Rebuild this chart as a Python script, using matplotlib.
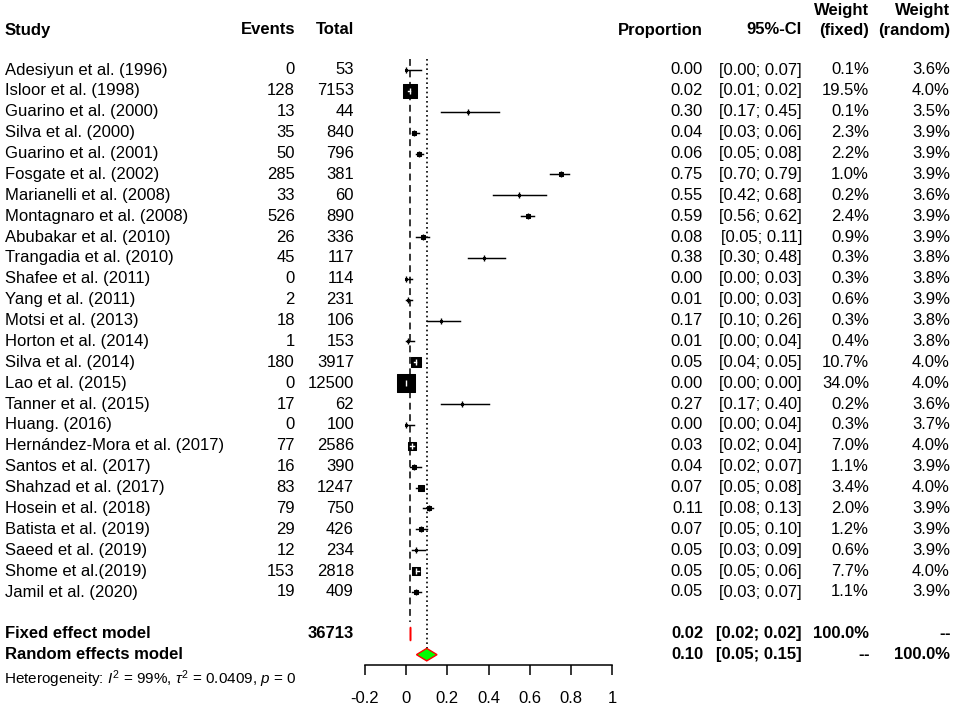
import numpy as np
import matplotlib
matplotlib.use("Agg")
import matplotlib.pyplot as plt
from matplotlib.patches import Polygon

plt.rcParams['font.family'] = ['Liberation Sans', 'DejaVu Sans']
plt.rcParams['mathtext.fontset'] = 'custom'
plt.rcParams['mathtext.rm'] = 'Liberation Sans'
plt.rcParams['mathtext.it'] = 'Liberation Sans:italic'
plt.rcParams['mathtext.bf'] = 'Liberation Sans:bold'

# ---------------- data ----------------
studies = ["Adesiyun et al. (1996)", "Isloor et al. (1998)", "Guarino et al. (2000)",
           "Silva et al. (2000)", "Guarino et al. (2001)", "Fosgate et al. (2002)",
           "Marianelli et al. (2008)", "Montagnaro et al. (2008)", "Abubakar et al. (2010)",
           "Trangadia et al. (2010)", "Shafee et al. (2011)", "Yang et al. (2011)",
           "Motsi et al. (2013)", "Horton et al. (2014)", "Silva et al. (2014)",
           "Lao et al. (2015)", "Tanner et al. (2015)", "Huang. (2016)",
           "Hernández-Mora et al. (2017)", "Santos et al. (2017)", "Shahzad et al. (2017)",
           "Hosein et al. (2018)", "Batista et al. (2019)", "Saeed et al. (2019)",
           "Shome et al.(2019)", "Jamil et al. (2020)"]
events = [0, 128, 13, 35, 50, 285, 33, 526, 26, 45, 0, 2, 18, 1, 180, 0, 17, 0, 77, 16,
          83, 79, 29, 12, 153, 19]
totals = [53, 7153, 44, 840, 796, 381, 60, 890, 336, 117, 114, 231, 106, 153, 3917, 12500,
          62, 100, 2586, 390, 1247, 750, 426, 234, 2818, 409]
props = [0.00, 0.02, 0.30, 0.04, 0.06, 0.75, 0.55, 0.59, 0.08, 0.38, 0.00, 0.01, 0.17,
         0.01, 0.05, 0.00, 0.27, 0.00, 0.03, 0.04, 0.07, 0.11, 0.07, 0.05, 0.05, 0.05]
ci_low = [0.00, 0.01, 0.17, 0.03, 0.05, 0.70, 0.42, 0.56, 0.05, 0.30, 0.00, 0.00, 0.10,
          0.00, 0.04, 0.00, 0.17, 0.00, 0.02, 0.02, 0.05, 0.08, 0.05, 0.03, 0.05, 0.03]
ci_high = [0.07, 0.02, 0.45, 0.06, 0.08, 0.79, 0.68, 0.62, 0.11, 0.48, 0.03, 0.03, 0.26,
           0.04, 0.05, 0.00, 0.40, 0.04, 0.04, 0.07, 0.08, 0.13, 0.10, 0.09, 0.06, 0.07]
w_fixed = [0.1, 19.5, 0.1, 2.3, 2.2, 1.0, 0.2, 2.4, 0.9, 0.3, 0.3, 0.6, 0.3, 0.4, 10.7,
           34.0, 0.2, 0.3, 7.0, 1.1, 3.4, 2.0, 1.2, 0.6, 7.7, 1.1]
w_random = [3.6, 4.0, 3.5, 3.9, 3.9, 3.9, 3.6, 3.9, 3.9, 3.8, 3.8, 3.9, 3.8, 3.8, 4.0,
            4.0, 3.6, 3.7, 4.0, 3.9, 4.0, 3.9, 3.9, 3.9, 4.0, 3.9]

total_n = 36713
fixed_est, fixed_lo, fixed_hi = 0.02, 0.02, 0.02
random_est, random_lo, random_hi = 0.10, 0.05, 0.15
het_text = r"Heterogeneity: $I^2$ = 99%, $\tau^2$ = 0.0409, $p$ = 0"
xticks = [-0.2, 0, 0.2, 0.4, 0.6, 0.8, 1]
xtick_labels = ["-0.2", "0", "0.2", "0.4", "0.6", "0.8", "1"]

# ---------------- layout (pixels) ----------------
W, H = 957, 706
ROW0, ROWH = 70.0, 20.88
FIXED_ROW, RANDOM_ROW = 27, 28
X0_PX, X1_PX = 365, 612          # -0.2 and 1 on the axis
AXIS_Y = 665
TOP_Y = 59
FS = 12

fig = plt.figure(figsize=(W / 100, H / 100), dpi=100)
bg = fig.add_axes([0, 0, 1, 1])
bg.set_xlim(0, W)
bg.set_ylim(H, 0)
bg.axis('off')

def rowy(r):
    return ROW0 + ROWH * r

# forest axes
r_top = (TOP_Y - ROW0) / ROWH
r_bot = (AXIS_Y - ROW0) / ROWH
ax = fig.add_axes([X0_PX / W, (H - AXIS_Y) / H, (X1_PX - X0_PX) / W, (AXIS_Y - TOP_Y) / H])
ax.set_xlim(xticks[0], xticks[-1])
ax.set_ylim(r_bot, r_top)
ax.patch.set_alpha(0)
for s in ['top', 'right', 'left']:
    ax.spines[s].set_visible(False)
ax.spines['bottom'].set_linewidth(1.1)
ax.set_yticks([])
ax.set_xticks(xticks)
ax.set_xticklabels(xtick_labels, fontsize=FS)
ax.tick_params(axis='x', direction='out', length=7.5, width=1.1, pad=11)

# reference lines
ax.plot([fixed_est, fixed_est], [r_top, FIXED_ROW - 0.55], color='black', lw=1.1,
        ls=(0, (4.5, 3)), clip_on=False)
ax.plot([random_est, random_est], [r_top, RANDOM_ROW - 0.3], color='black', lw=1.2,
        ls=(0, (1, 1.8)), clip_on=False)

px_per_unit = (X1_PX - X0_PX) / (xticks[-1] - xticks[0])
max_side_px = 18.5
max_w = max(w_fixed)
rows = np.arange(len(studies))
for i in rows:
    est, lo, hi, w = props[i], ci_low[i], ci_high[i], w_fixed[i]
    side_px = max_side_px * np.sqrt(w / max_w)
    ax.plot([lo, hi], [i, i], color='black', lw=1.05, clip_on=False, zorder=2)
    ax.plot([est], [i], marker='|', ms=5, mew=1.0, color='black', clip_on=False, zorder=2)
    ax.scatter([est], [i], s=(side_px * 0.72) ** 2, marker='s', facecolor='black',
               edgecolor='black', linewidths=0.75, clip_on=False, zorder=3)
    half = (side_px + 1) / 2 / px_per_unit
    if side_px > 5 and est - half <= lo and hi <= est + half:
        ax.plot([lo, hi], [i, i], color='white', lw=1.0, clip_on=False, zorder=4)
        ax.plot([est], [i], marker='|', ms=4, mew=1.0, color='white', clip_on=False, zorder=4)

# summary diamonds
def diamond(est, lo, hi, r, h, face):
    p = Polygon([[lo, r], [est, r - h], [hi, r], [est, r + h]], closed=True,
                facecolor=face, edgecolor='red', lw=1.0, clip_on=False, zorder=5)
    ax.add_patch(p)

diamond(fixed_est, fixed_lo, fixed_hi, FIXED_ROW, 0.3, 'none')
ax.plot([fixed_est, fixed_est], [FIXED_ROW - 0.3, FIXED_ROW + 0.3], color='red', lw=1.0,
        clip_on=False)
diamond(random_est, random_lo, random_hi, RANDOM_ROW, 0.3, '#00ff00')

# ---------------- text ----------------
X_STUDY, X_EV, X_TOT = 5, 295, 354
X_PROP, X_CI, X_WF, X_WR = 703, 802, 869, 950
HEAD_Y, HEAD_Y2 = 30, 10

def t(x, y, s, ha='right', bold=False, size=FS):
    bg.text(x, y, s, ha=ha, va='center', fontsize=size,
            fontweight='bold' if bold else 'normal', color='black')

def dashes(x, y):
    # two separate hyphens, as in the original "--"
    t(x, y, "-", bold=True)
    t(x - 5.5, y, "-", bold=True)

t(X_STUDY, HEAD_Y, "Study", ha='left', bold=True)
t(X_EV, HEAD_Y, "Events", bold=True)
t(X_TOT, HEAD_Y, "Total", bold=True)
t(X_PROP, HEAD_Y, "Proportion", bold=True)
t(X_CI, HEAD_Y, "95%-CI", bold=True)
t(X_WF, HEAD_Y2, "Weight", bold=True)
t(X_WF, HEAD_Y, "(fixed)", bold=True)
t(X_WR, HEAD_Y2, "Weight", bold=True)
t(X_WR, HEAD_Y, "(random)", bold=True)

for i in rows:
    y = rowy(i)
    t(X_STUDY, y, studies[i], ha='left')
    t(X_EV, y, str(events[i]))
    t(X_TOT, y, str(totals[i]))
    t(X_PROP, y, f"{props[i]:.2f}")
    t(X_CI, y, f"[{ci_low[i]:.2f}; {ci_high[i]:.2f}]")
    t(X_WF, y, f"{w_fixed[i]:.1f}%")
    t(X_WR, y, f"{w_random[i]:.1f}%")

y = rowy(FIXED_ROW)
t(X_STUDY, y, "Fixed effect model", ha='left', bold=True)
t(X_TOT, y, str(total_n), bold=True)
t(X_PROP, y, f"{fixed_est:.2f}", bold=True)
t(X_CI, y, f"[{fixed_lo:.2f}; {fixed_hi:.2f}]", bold=True)
t(X_WF, y, "100.0%", bold=True)
dashes(X_WR, y)

y = rowy(RANDOM_ROW)
t(X_STUDY, y, "Random effects model", ha='left', bold=True)
t(X_PROP, y, f"{random_est:.2f}", bold=True)
t(X_CI, y, f"[{random_lo:.2f}; {random_hi:.2f}]", bold=True)
dashes(X_WF, y)
t(X_WR, y, "100.0%", bold=True)

t(4, 679, het_text, ha='left', size=11)

fig.savefig("out.png", dpi=100)
